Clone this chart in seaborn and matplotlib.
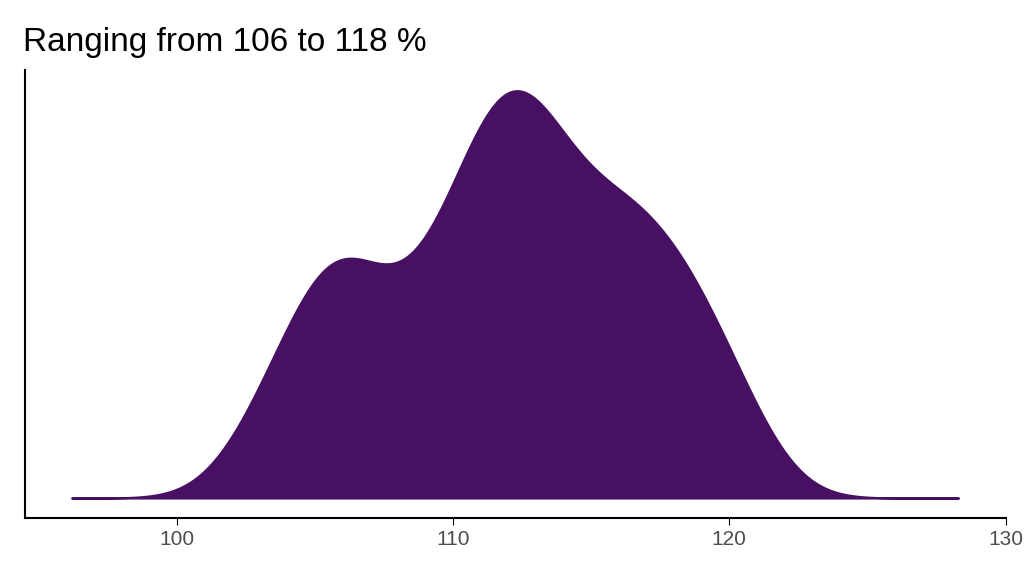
import matplotlib
matplotlib.use("Agg")
import matplotlib.pyplot as plt
import seaborn as sns
import numpy as np

# sample values (percent) read to reproduce the density shape
values = [103.0, 104.2, 105.0, 105.6, 106.0, 106.4, 107.0, 108.2, 109.0, 109.6,
          110.2, 110.7, 111.1, 111.5, 111.8, 112.1, 112.4, 112.7, 113.0, 113.4,
          113.9, 114.4, 115.0, 115.5, 116.0, 116.5, 117.0, 117.5, 118.1, 118.8,
          119.5, 120.5]
x_ticks = [100, 110, 120, 130]
title = "Ranging from 106 to 118 %"
color = "#471063"

sns.set_style("white")
plt.rcParams['font.family'] = ['Liberation Sans', 'DejaVu Sans']

fig, ax = plt.subplots(figsize=(10.24, 5.76), dpi=100)
sns.kdeplot(x=values, ax=ax, fill=True, color=color, alpha=1, linewidth=1.5,
            bw_adjust=0.68, cut=20, clip=(96.2, 128.3), gridsize=400)

ax.set_xlim(94.5, 130)
ymax = max(p.vertices[:, 1].max() for c in ax.collections for p in c.get_paths())
ax.set_ylim(-0.05 * ymax, ymax * 1.05)
ax.set_xticks(x_ticks)
ax.set_yticks([])
ax.set_xlabel("")
ax.set_ylabel("")
ax.tick_params(axis="x", colors="#4d4d4d", labelsize=15, length=5, direction="out",
               bottom=True, color="black")
for s in ["top", "right"]:
    ax.spines[s].set_visible(False)
for s in ["left", "bottom"]:
    ax.spines[s].set_color("black")
    ax.spines[s].set_linewidth(1.5)
ax.set_title(title, loc="left", fontsize=24, pad=14, x=-0.002, color="black")

fig.subplots_adjust(left=0.024, right=0.982, top=0.878, bottom=0.1)
fig.savefig("out.png", dpi=100)
